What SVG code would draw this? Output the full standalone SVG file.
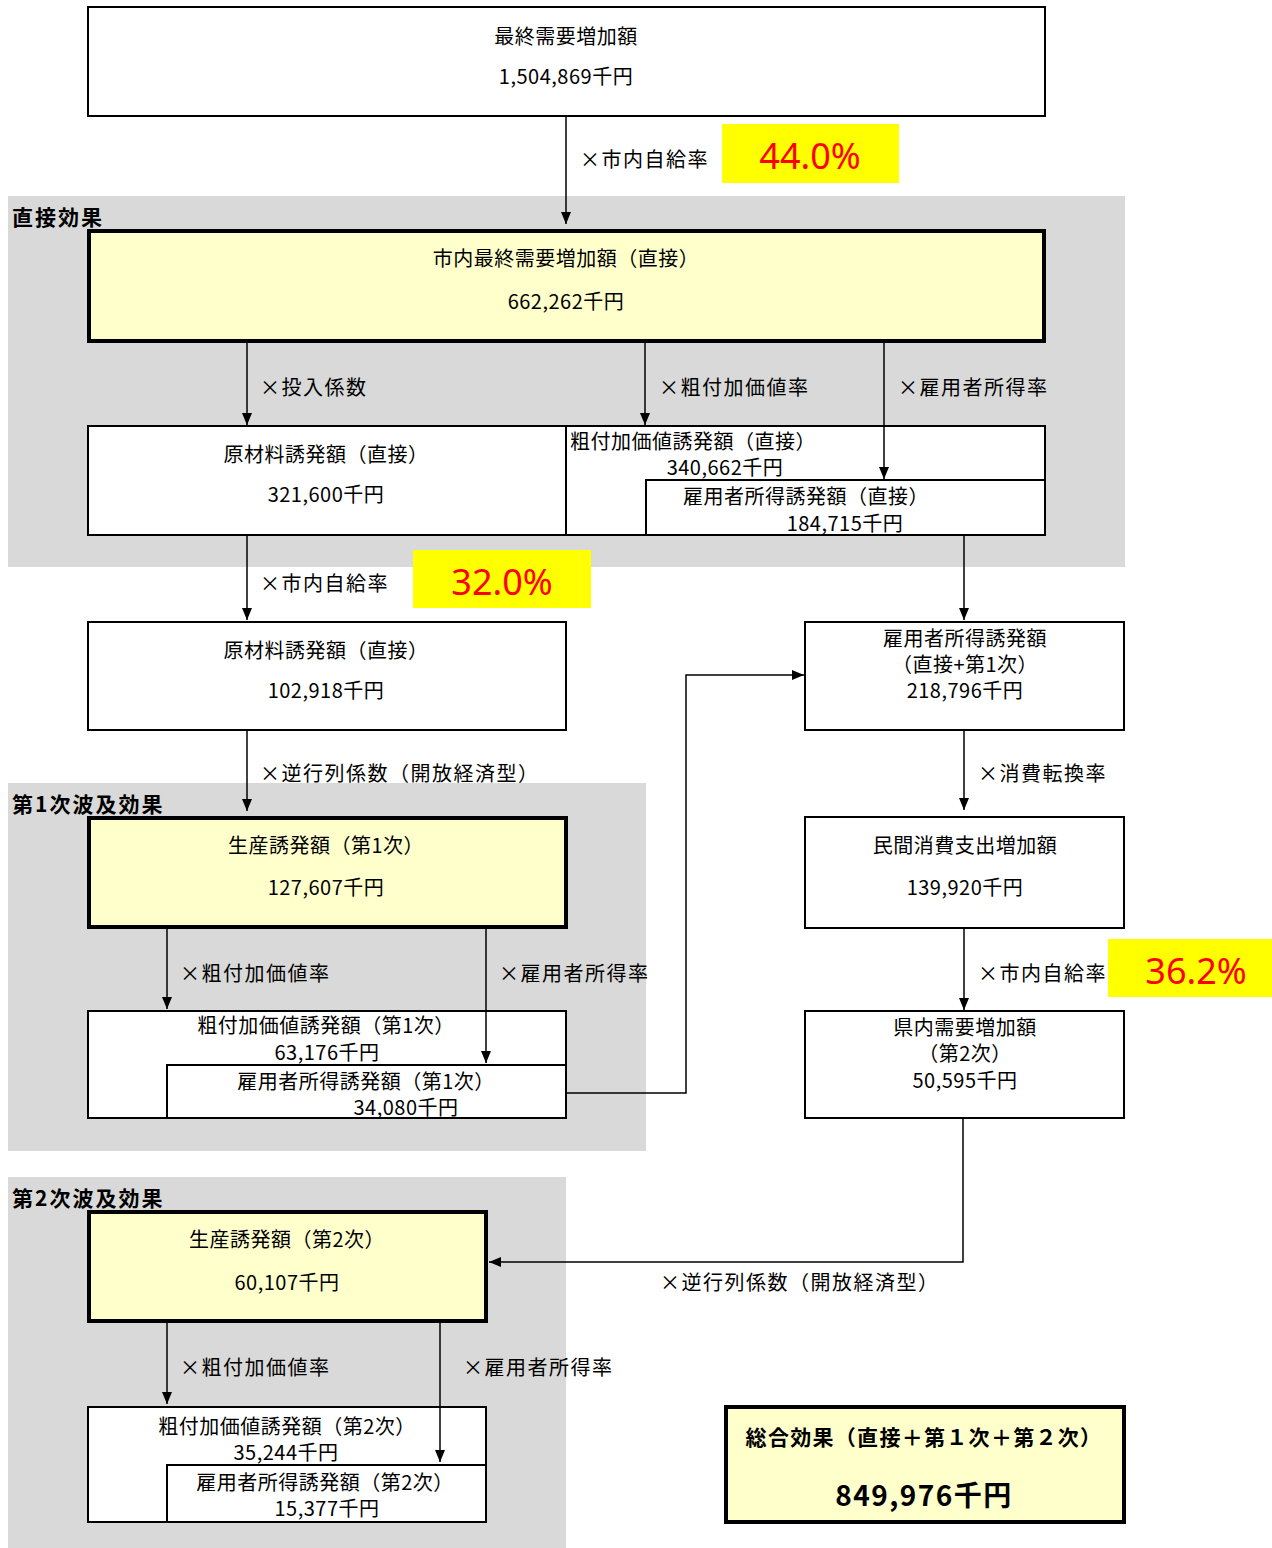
<svg xmlns="http://www.w3.org/2000/svg" width="1272" height="1548" viewBox="0 0 1272 1548">
<style>
text{font-family:"Noto Sans CJK JP","Noto Sans",sans-serif;font-size:20px;letter-spacing:0.5px;fill:#000;dominant-baseline:central}
.c{text-anchor:middle}
.lb{letter-spacing:1.5px}
.box{fill:#fff;stroke:#000;stroke-width:2}
.hbox{fill:#ffffcc;stroke:#000;stroke-width:4}
.zone{fill:#d9d9d9}
.zl{font-weight:bold;font-size:21px;letter-spacing:2px}
.yl{fill:#ffff00}
.pct{fill:#ff0000;font-family:"Noto Sans",sans-serif;font-size:36px;letter-spacing:0;text-anchor:middle}
.ln{fill:none;stroke:#000;stroke-width:1.5}
.tot{font-weight:bold;font-size:21px;letter-spacing:1.3px;text-anchor:middle}
.totv{font-weight:bold;font-size:28px;text-anchor:middle;letter-spacing:1.5px}
</style>
<defs>
<marker id="ah" markerUnits="userSpaceOnUse" markerWidth="12" markerHeight="10" refX="12" refY="5" orient="auto">
<path d="M0,0 L12,5 L0,10 z" fill="#000"/>
</marker>
</defs>
<rect width="1272" height="1548" fill="#fff"/>
<g id="zones">
<rect class="zone" x="8" y="196" width="1117" height="371"/>
<rect class="zone" x="8" y="783" width="638" height="368"/>
<rect class="zone" x="8" y="1177" width="558" height="371"/>
<text class="zl" x="12" y="216">直接効果</text>
<text class="zl" x="12" y="803">第1次波及効果</text>
<text class="zl" x="12" y="1197">第2次波及効果</text>
</g>
<g id="rates">
<rect class="yl" x="722" y="124" width="177" height="59"/>
<text class="pct" x="810" y="155">44.0%</text>
<rect class="yl" x="413" y="550" width="178" height="58"/>
<text class="pct" x="502" y="581">32.0%</text>
<rect class="yl" x="1108" y="939" width="164" height="58"/>
<text class="pct" x="1196" y="970">36.2%</text>
</g>
<g id="n-final-demand">
<rect class="box" x="88" y="7" width="957" height="109"/>
<text class="c" x="566" y="35">最終需要増加額</text>
<text class="c" x="566" y="75">1,504,869千円</text>
</g>
<g id="n-city-final-direct">
<rect class="hbox" x="89" y="231" width="955" height="110"/>
<text class="c" x="566" y="257">市内最終需要増加額（直接）</text>
<text class="c" x="566" y="300">662,262千円</text>
</g>
<g id="n-direct-row">
<rect class="box" x="88" y="426" width="957" height="109"/>
<line x1="566" y1="426" x2="566" y2="535" stroke="#000" stroke-width="2"/>
<text class="c" x="326" y="453">原材料誘発額（直接）</text>
<text class="c" x="326" y="493">321,600千円</text>
<text x="570" y="440">粗付加価値誘発額（直接）</text>
<text class="c" x="725" y="466">340,662千円</text>
</g>
<g id="n-direct-wage">
<rect class="box" x="646" y="480" width="399" height="55"/>
<text class="c" x="806" y="495">雇用者所得誘発額（直接）</text>
<text class="c" x="845" y="522">184,715千円</text>
</g>
<g id="n-material-local">
<rect class="box" x="88" y="622" width="478" height="108"/>
<text class="c" x="326" y="649">原材料誘発額（直接）</text>
<text class="c" x="326" y="689">102,918千円</text>
</g>
<g id="n-wage-total">
<rect class="box" x="805" y="622" width="319" height="108"/>
<text class="c" x="965" y="637">雇用者所得誘発額</text>
<text class="c" x="965" y="663">（直接+第1次）</text>
<text class="c" x="965" y="689">218,796千円</text>
</g>
<g id="n-prod-1">
<rect class="hbox" x="89" y="818" width="477" height="109"/>
<text class="c" x="326" y="844">生産誘発額（第1次）</text>
<text class="c" x="326" y="886">127,607千円</text>
</g>
<g id="n-va-1">
<rect class="box" x="88" y="1011" width="478" height="107"/>
<text class="c" x="326" y="1024">粗付加価値誘発額（第1次）</text>
<text class="c" x="327" y="1051">63,176千円</text>
</g>
<g id="n-wage-1">
<rect class="box" x="167" y="1065" width="399" height="53"/>
<text class="c" x="366" y="1080">雇用者所得誘発額（第1次）</text>
<text class="c" x="406" y="1106">34,080千円</text>
</g>
<g id="n-consumption">
<rect class="box" x="805" y="817" width="319" height="111"/>
<text class="c" x="965" y="844">民間消費支出増加額</text>
<text class="c" x="965" y="886">139,920千円</text>
</g>
<g id="n-pref-demand">
<rect class="box" x="805" y="1011" width="319" height="107"/>
<text class="c" x="965" y="1026">県内需要増加額</text>
<text class="c" x="965" y="1052">（第2次）</text>
<text class="c" x="965" y="1079">50,595千円</text>
</g>
<g id="n-prod-2">
<rect class="hbox" x="89" y="1212" width="397" height="109"/>
<text class="c" x="287" y="1238">生産誘発額（第2次）</text>
<text class="c" x="287" y="1281">60,107千円</text>
</g>
<g id="n-va-2">
<rect class="box" x="88" y="1407" width="398" height="115"/>
<text class="c" x="287" y="1425">粗付加価値誘発額（第2次）</text>
<text class="c" x="286" y="1451">35,244千円</text>
</g>
<g id="n-wage-2">
<rect class="box" x="167" y="1465" width="319" height="57"/>
<text class="c" x="325" y="1481">雇用者所得誘発額（第2次）</text>
<text class="c" x="327" y="1507">15,377千円</text>
</g>
<g id="n-total">
<rect class="hbox" x="726" y="1407" width="398" height="115"/>
<text class="tot" x="924" y="1436">総合効果（直接＋第１次＋第２次）</text>
<text class="totv" x="924" y="1494">849,976千円</text>
</g>
<g id="connectors">
<line class="ln" x1="566" y1="117" x2="566" y2="224" marker-end="url(#ah)"/>
<line class="ln" x1="247" y1="343" x2="247" y2="425" marker-end="url(#ah)"/>
<line class="ln" x1="645" y1="343" x2="645" y2="425" marker-end="url(#ah)"/>
<line class="ln" x1="884" y1="343" x2="884" y2="479" marker-end="url(#ah)"/>
<line class="ln" x1="247" y1="536" x2="247" y2="620" marker-end="url(#ah)"/>
<line class="ln" x1="964" y1="536" x2="964" y2="620" marker-end="url(#ah)"/>
<line class="ln" x1="247" y1="731" x2="247" y2="811" marker-end="url(#ah)"/>
<line class="ln" x1="167" y1="929" x2="167" y2="1009" marker-end="url(#ah)"/>
<line class="ln" x1="486" y1="929" x2="486" y2="1063" marker-end="url(#ah)"/>
<polyline class="ln" points="567,1093 686,1093 686,675 804,675" marker-end="url(#ah)"/>
<line class="ln" x1="964" y1="731" x2="964" y2="810" marker-end="url(#ah)"/>
<line class="ln" x1="964" y1="929" x2="964" y2="1010" marker-end="url(#ah)"/>
<polyline class="ln" points="963,1119 963,1262 489,1262" marker-end="url(#ah)"/>
<line class="ln" x1="167" y1="1323" x2="167" y2="1404" marker-end="url(#ah)"/>
<line class="ln" x1="440" y1="1323" x2="440" y2="1462" marker-end="url(#ah)"/>
<text class="lb" x="580" y="158">×市内自給率</text>
<text class="lb" x="260" y="386">×投入係数</text>
<text class="lb" x="659" y="386">×粗付加価値率</text>
<text class="lb" x="898" y="386">×雇用者所得率</text>
<text class="lb" x="260" y="582">×市内自給率</text>
<text class="lb" x="260" y="772">×逆行列係数（開放経済型）</text>
<text class="lb" x="180" y="972">×粗付加価値率</text>
<text class="lb" x="499" y="972">×雇用者所得率</text>
<text class="lb" x="978" y="772">×消費転換率</text>
<text class="lb" x="978" y="972">×市内自給率</text>
<text class="lb" x="660" y="1281">×逆行列係数（開放経済型）</text>
<text class="lb" x="180" y="1366">×粗付加価値率</text>
<text class="lb" x="463" y="1366">×雇用者所得率</text>
</g>
</svg>
